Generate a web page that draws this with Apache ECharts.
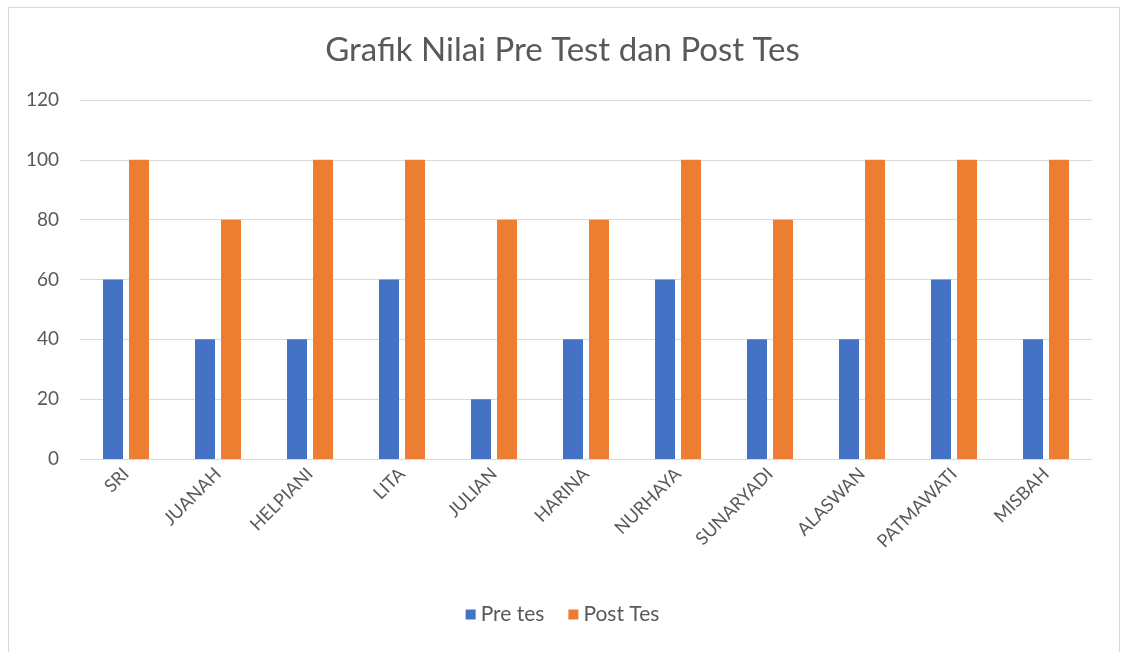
<!DOCTYPE html>
<html>
<head>
<meta charset="utf-8">
<script src="https://cdn.jsdelivr.net/npm/echarts@6/dist/echarts.min.js"></script>
<style>
  html, body { margin: 0; padding: 0; background: #fff; }
  #chart { width: 1125px; height: 652px; }
  #frame {
    position: absolute; left: 8px; top: 7px; width: 1110px; height: 660px;
    border: 1px solid #d9d9d9; pointer-events: none;
  }
</style>
</head>
<body>
<div id="chart"></div>
<div id="frame"></div>
<script>
const categories = ['SRI', 'JUANAH', 'HELPIANI', 'LITA', 'JULIAN', 'HARINA', 'NURHAYA', 'SUNARYADI', 'ALASWAN', 'PATMAWATI', 'MISBAH'];
const preTes = [60, 40, 40, 60, 20, 40, 60, 40, 40, 60, 40];
const postTes = [100, 80, 100, 100, 80, 80, 100, 80, 100, 100, 100];
const seriesNames = ['Pre tes', 'Post Tes'];

const chart = echarts.init(document.getElementById('chart'));
const font = 'Lato, "Open Sans", sans-serif';

chart.setOption({
  animation: false,
  color: ['#4472c4', '#ed7d31'],
  textStyle: { fontFamily: font },
  title: {
    text: 'Grafik Nilai Pre Test dan Post Tes',
    left: 'center',
    top: 29,
    textStyle: { color: '#595959', fontSize: 33, fontWeight: 'normal', fontFamily: font }
  },
  legend: {
    data: seriesNames,
    bottom: 22,
    left: 'center',
    icon: 'rect',
    itemWidth: 10,
    itemHeight: 10,
    itemGap: 24,
    itemTextGap: 8,
    textStyle: { color: '#595959', fontSize: 21, fontFamily: font }
  },
  grid: { left: 80, right: 33, top: 100, bottom: 193 },
  xAxis: {
    type: 'category',
    data: categories,
    axisLine: { lineStyle: { color: '#d9d9d9' } },
    axisTick: { show: false },
    axisLabel: { rotate: 45, color: '#595959', fontSize: 18, margin: 12, interval: 0 }
  },
  yAxis: {
    type: 'value',
    min: 0,
    max: 120,
    interval: 20,
    axisLine: { show: false },
    axisTick: { show: false },
    splitLine: { lineStyle: { color: '#d9d9d9' } },
    axisLabel: { color: '#595959', fontSize: 19, margin: 21 }
  },
  series: [
    { name: seriesNames[0], type: 'bar', data: preTes, barWidth: 20, barGap: '30%' },
    { name: seriesNames[1], type: 'bar', data: postTes, barWidth: 20, barGap: '30%' }
  ]
});
</script>
</body>
</html>
